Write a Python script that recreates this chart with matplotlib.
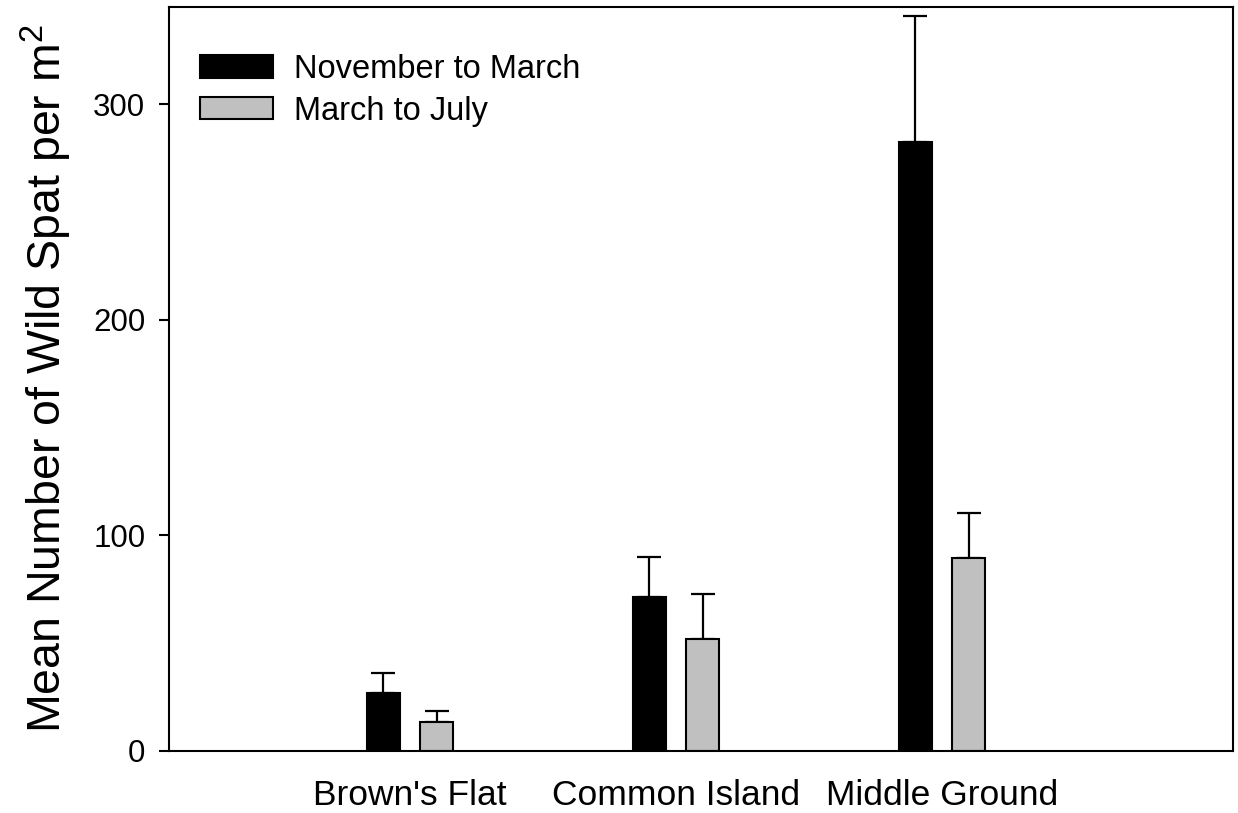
import numpy as np
import matplotlib
matplotlib.use("Agg")
import matplotlib.pyplot as plt

plt.rcParams['font.family'] = ['Liberation Sans', 'DejaVu Sans']
plt.rcParams['mathtext.fontset'] = 'custom'
plt.rcParams['mathtext.rm'] = 'Liberation Sans'
plt.rcParams['mathtext.it'] = 'Liberation Sans'

sites = ["Brown's Flat", "Common Island", "Middle Ground"]
nov_mar_mean = [27.1, 71.5, 282.3]
nov_mar_se = [9.2, 18.6, 58.4]
mar_jul_mean = [13.3, 52.1, 89.5]
mar_jul_se = [5.2, 20.5, 20.8]
yticks = [0, 100, 200, 300]

fig = plt.figure(figsize=(12.38, 8.13), dpi=100)
ax = fig.add_axes([0.1365, 0.0763, 0.8595, 0.9151])

x = np.arange(1, len(sites) + 1)
offset = 0.1
width = 0.124

ax.bar(x - offset, nov_mar_mean, width, color='black', edgecolor='black',
       linewidth=1.5, label='November to March', zorder=2)
ax.bar(x + offset, mar_jul_mean, width, color='#c0c0c0', edgecolor='black',
       linewidth=1.5, label='March to July', zorder=2)

ax.errorbar(x - offset, nov_mar_mean, yerr=[np.zeros(3), nov_mar_se], fmt='none',
            ecolor='black', elinewidth=1.6, capsize=8.6, capthick=1.6, zorder=1)
ax.errorbar(x + offset, mar_jul_mean, yerr=[np.zeros(3), mar_jul_se], fmt='none',
            ecolor='black', elinewidth=1.6, capsize=8.6, capthick=1.6, zorder=1)

ax.set_xlim(0.094, 4.094)
ax.set_ylim(0, 345)
ax.set_xticks(x)
ax.set_xticklabels(sites, fontsize=25.5)
ax.set_yticks(yticks)
ax.tick_params(axis='x', length=0, pad=20)
ax.tick_params(axis='y', direction='out', length=7, width=1.5, labelsize=22.5, pad=10)
for s in ax.spines.values():
    s.set_linewidth(1.5)

ax.set_ylabel('Mean Number of Wild Spat per m$^2$', fontsize=33.5, labelpad=14)

ax.legend(loc='upper left', bbox_to_anchor=(0.029, 0.937), frameon=False,
          fontsize=23.5, handlelength=2.25, handleheight=0.68, handletextpad=0.62,
          labelspacing=0.33, borderpad=0, borderaxespad=0)

fig.savefig('out.png', dpi=100)
